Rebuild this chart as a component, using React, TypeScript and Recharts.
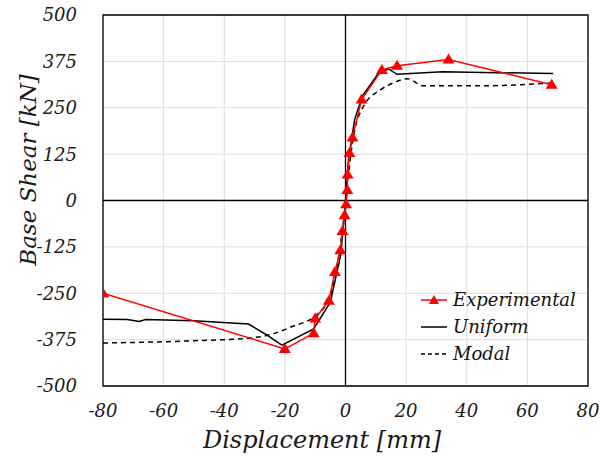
import React from "react"
import { LineChart, Line, XAxis, YAxis, CartesianGrid, ReferenceLine, ReferenceArea } from "recharts"

// displacement [mm] / base shear [kN]
const experimental = [
  { x: -80, y: -250 },
  { x: -20, y: -400 },
  { x: -10.5, y: -358 },
  { x: -10, y: -318 },
  { x: -5.5, y: -270 },
  { x: -3.5, y: -193 },
  { x: -1.7, y: -134 },
  { x: -1, y: -82 },
  { x: -0.3, y: -40 },
  { x: 0.2, y: -10 },
  { x: 0.6, y: 28 },
  { x: 0.7, y: 70 },
  { x: 1.3, y: 128 },
  { x: 2.3, y: 170 },
  { x: 5.3, y: 272 },
  { x: 12, y: 352 },
  { x: 17, y: 363 },
  { x: 34, y: 380 },
  { x: 68, y: 312 },
]

const uniform = [
  { x: -80, y: -320 },
  { x: -72, y: -321 },
  { x: -68, y: -326 },
  { x: -66, y: -321 },
  { x: -50, y: -324 },
  { x: -32, y: -333 },
  { x: -26, y: -362 },
  { x: -21, y: -390 },
  { x: -10.5, y: -346 },
  { x: -5, y: -274 },
  { x: -1.6, y: -148 },
  { x: 0, y: -5 },
  { x: 1, y: 110 },
  { x: 3, y: 218 },
  { x: 5.6, y: 282 },
  { x: 10.5, y: 339 },
  { x: 14.2, y: 355 },
  { x: 17, y: 340 },
  { x: 32, y: 347 },
  { x: 68.5, y: 342 },
]

const modal = [
  { x: -80, y: -384 },
  { x: -50, y: -378 },
  { x: -32, y: -371 },
  { x: -25, y: -362 },
  { x: -18, y: -341 },
  { x: -9.2, y: -306 },
  { x: -5, y: -256 },
  { x: -2.6, y: -167 },
  { x: -0.6, y: -51 },
  { x: 0.6, y: 40 },
  { x: 2.3, y: 156 },
  { x: 6, y: 255 },
  { x: 11.5, y: 298 },
  { x: 16, y: 318 },
  { x: 20.5, y: 328 },
  { x: 25.7, y: 309 },
  { x: 44.5, y: 309 },
  { x: 68.3, y: 317 },
]

const xTicks = [-80, -60, -40, -20, 0, 20, 40, 60, 80]
const yTicks = [-500, -375, -250, -125, 0, 125, 250, 375, 500]

const font = "'DejaVu Serif', serif"
const red = "#ff0000"

const Triangle = (props: any) => {
  const { cx, cy } = props
  if (cx == null || cy == null) return null
  return <path d={`M${cx},${cy - 6} L${cx + 6},${cy + 4} L${cx - 6},${cy + 4} Z`} fill={red} />
}

const LegendBox = () => {
  const items = [
    { name: "Experimental", color: red, dash: undefined, marker: true },
    { name: "Uniform", color: "#000", dash: undefined, marker: false },
    { name: "Modal", color: "#000", dash: "4 3", marker: false },
  ]
  return (
    <div style={{ position: "absolute", left: 421, top: 286, fontFamily: font, fontStyle: "italic", fontSize: 18, color: "#111" }}>
      {items.map((it) => (
        <div key={it.name} style={{ display: "flex", alignItems: "center", height: 27 }}>
          <svg width={28} height={14} style={{ marginRight: 4 }}>
            <line x1={0} x2={26} y1={7} y2={7} stroke={it.color} strokeWidth={1.5} strokeDasharray={it.dash} />
            {it.marker && <path d="M13,2 L18,11 L8,11 Z" fill={red} />}
          </svg>
          <span>{it.name}</span>
        </div>
      ))}
    </div>
  )
}

const tickStyle = { fontFamily: font, fontStyle: "italic", fontSize: 18, fill: "#1a1a1a" }

export default function App() {
  return (
    <div style={{ position: "absolute", left: 0, top: 0, width: 603, height: 456, background: "#fff" }}>
      <LineChart width={603} height={456} margin={{ top: 15, right: 15, bottom: 0, left: 0 }}>
        <CartesianGrid stroke="#dcdcdc" strokeWidth={1} />
        <XAxis
          type="number"
          dataKey="x"
          domain={[-80, 80]}
          ticks={xTicks}
          allowDataOverflow
          axisLine={false}
          tickLine={false}
          tickMargin={12}
          tick={tickStyle}
          height={70}
          label={() => (
            <text x={322} y={448} textAnchor="middle"
              style={{ fontFamily: font, fontStyle: "italic", fontSize: 24, fill: "#1a1a1a" }}>
              Displacement [mm]
            </text>
          )}
        />
        <YAxis
          type="number"
          dataKey="y"
          domain={[-500, 500]}
          ticks={yTicks}
          allowDataOverflow
          axisLine={false}
          tickLine={false}
          tickMargin={20}
          tick={tickStyle}
          width={103}
          label={() => (
            <text x={0} y={0} textAnchor="middle" transform="translate(36,170) rotate(-90)"
              style={{ fontFamily: font, fontStyle: "italic", fontSize: 23, fill: "#1a1a1a" }}>
              Base Shear [kN]
            </text>
          )}
        />
        <ReferenceArea x1={-80} x2={80} y1={-500} y2={500} fill="none" stroke="#000" strokeWidth={1.3} ifOverflow="visible" />
        <ReferenceLine x={0} stroke="#000" strokeWidth={1.3} />
        <ReferenceLine y={0} stroke="#000" strokeWidth={1.3} />
        <Line data={modal} dataKey="y" name="Modal" stroke="#000" strokeWidth={1.5} strokeDasharray="5 4" dot={false} isAnimationActive={false} type="monotone" />
        <Line data={uniform} dataKey="y" name="Uniform" stroke="#000" strokeWidth={1.5} dot={false} isAnimationActive={false} type="linear" />
        <Line data={experimental} dataKey="y" name="Experimental" stroke={red} strokeWidth={1.5} dot={<Triangle />} isAnimationActive={false} type="linear" />
      </LineChart>
      <LegendBox />
    </div>
  )
}
